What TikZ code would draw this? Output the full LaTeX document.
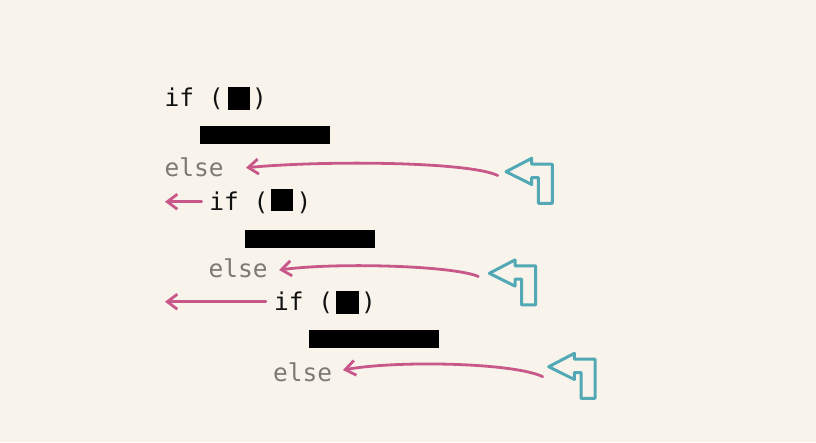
\documentclass[tikz,border=0pt]{standalone}
\usepackage{fontspec}
\setmonofont{DejaVu Sans Mono}
\usetikzlibrary{arrows.meta}
\definecolor{bg}{HTML}{F8F4EB}
\definecolor{pinkc}{HTML}{C8578A}
\definecolor{tealc}{HTML}{52A9B5}
\definecolor{grayc}{HTML}{7C7A72}
\definecolor{ink}{HTML}{111111}
\tikzset{
  code/.style={font=\ttfamily\fontsize{24.5}{24.5}\selectfont, inner sep=0pt, anchor=base west, text=ink},
  elsekw/.style={code, text=grayc},
  blk/.style={fill=black, draw=none, inner sep=0pt, minimum width=22.5pt, minimum height=22.5pt},
  barbox/.style={fill=black, draw=none, inner sep=0pt, minimum width=130.5pt, minimum height=18pt, anchor=north west},
  jump/.style={draw=pinkc, line width=2.8pt, line cap=round, -{Straight Barb[length=10pt,width=15pt]}},
  turnicon/.pic={\draw[tealc, line width=3pt, line join=round]
    (0,0) -- (25.7,-13.4) -- (25.7,-7.5) -- (46.3,-7.5) -- (46.3,31.6) -- (32.3,31.6)
    -- (32.3,5.8) -- (25.7,5.8) -- (25.7,12.8) -- cycle;}
}
\begin{document}
\begin{tikzpicture}[x=1pt,y=-1pt]
\useasboundingbox[fill=bg] (0,0) rectangle (816,442);
% line 1
\node[code] (if1) at (164.5,106) {if (};
\node[blk] (c1) at (239,98.3) {};
\node[code] (p1) at (252,106) {)};
\node[barbox] (b1) at (199.5,125.8) {};
\node[elsekw] (e1) at (164.5,176.7) {else};
% line 2
\node[code] (if2) at (209.2,210) {if (};
\node[blk] (c2) at (282.2,200) {};
\node[code] (p2) at (296.5,210) {)};
\node[barbox] (b2) at (244.3,229.3) {};
\node[elsekw] (e2) at (208.5,277.3) {else};
% line 3
\node[code] (if3) at (273.8,310) {if (};
\node[blk] (c3) at (347.3,302.7) {};
\node[code] (p3) at (361,310) {)};
\node[barbox] (b3) at (308.3,330) {};
\node[elsekw] (e3) at (272.8,381) {else};
% connector ends
\coordinate (s1) at (497.7,175.5);
\coordinate (t1) at (246,167.7);
\coordinate (s2) at (478.3,276.5);
\coordinate (t2) at (279,270);
\coordinate (s3) at (542.7,376.7);
\coordinate (t3) at (343,370);
\coordinate (u1) at (201.7,201.7);
\coordinate (v1) at (165,201.7);
\coordinate (u2) at (266,301.7);
\coordinate (v2) at (165,301.7);
\draw[jump] (s1) .. controls (470,162) and (330,160) .. (t1);
\draw[jump] (s2) .. controls (455,266) and (340,262) .. (t2);
\draw[jump] (s3) .. controls (515,363) and (400,360) .. (t3);
\draw[jump] (u1) -- (v1);
\draw[jump] (u2) -- (v2);
% icons
\pic at (506,171.7) {turnicon};
\pic at (489.3,273.3) {turnicon};
\pic at (548.7,366.7) {turnicon};
\end{tikzpicture}
\end{document}
